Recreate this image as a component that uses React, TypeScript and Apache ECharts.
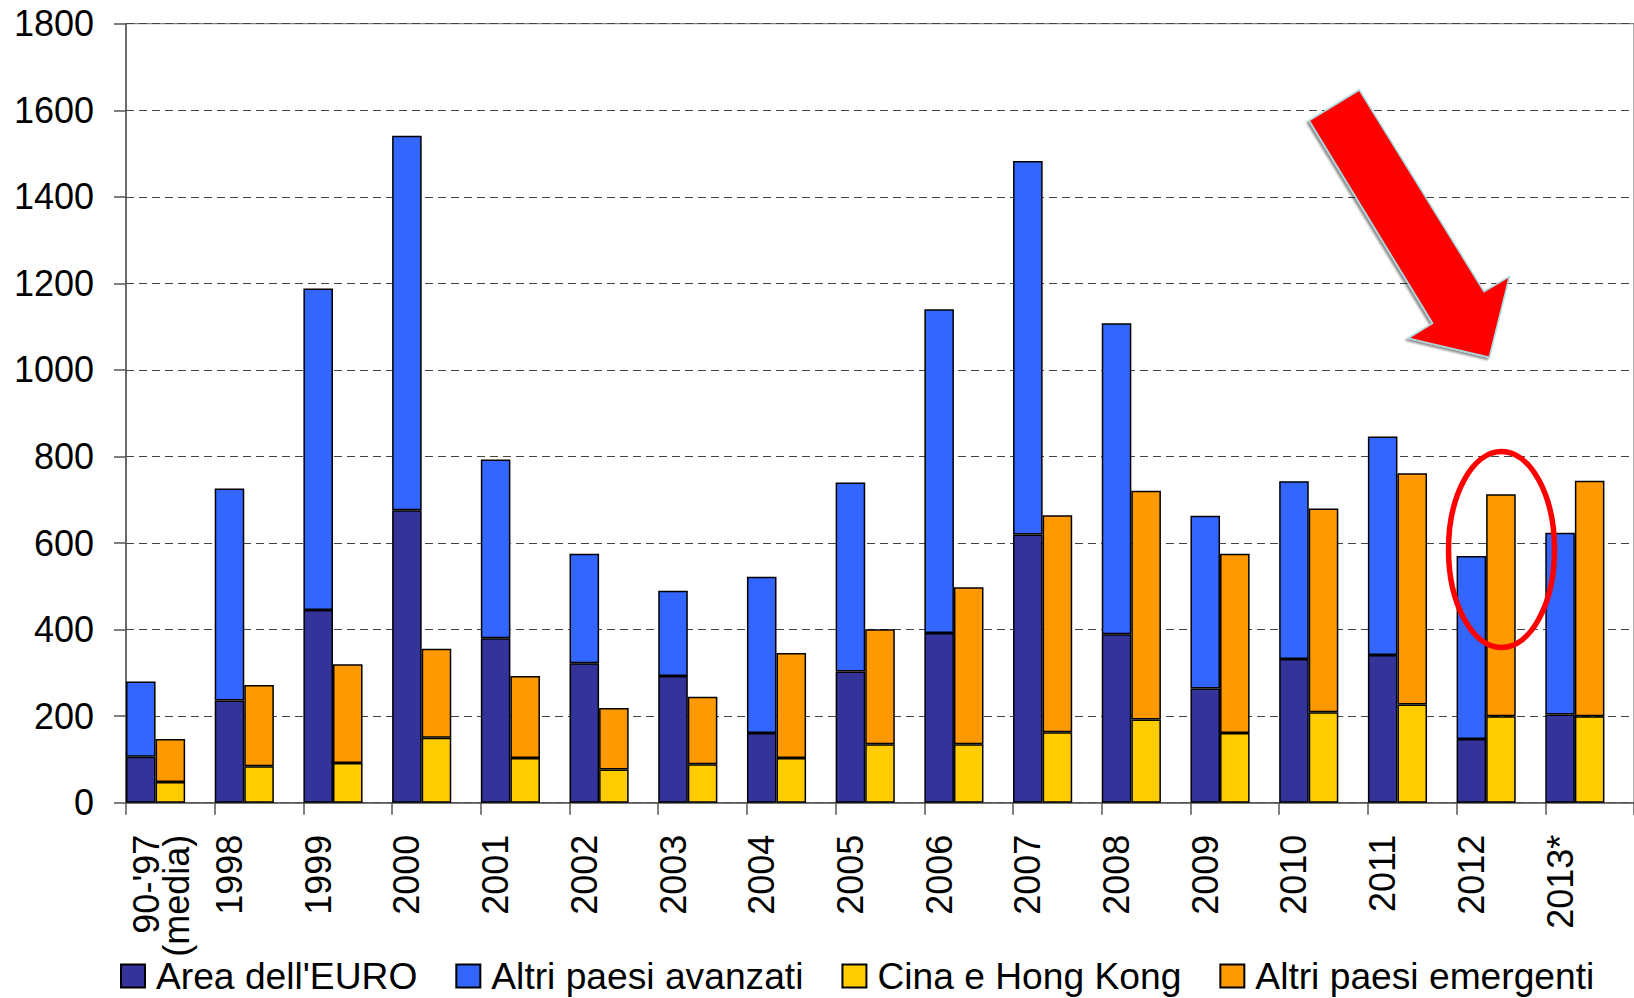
import React, { useEffect, useRef } from "react";
import * as echarts from "echarts";

const categories = ["90-'97\n(media)", "1998", "1999", "2000", "2001", "2002", "2003", "2004", "2005", "2006", "2007", "2008", "2009", "2010", "2011", "2012", "2013*"];
const areaEuro = [106, 236, 445, 676, 380, 322, 293, 161, 303, 392, 620, 389, 264, 332, 341, 147, 204];
const altriAvanzati = [174, 490, 743, 865, 413, 253, 197, 361, 437, 748, 863, 719, 399, 411, 505, 423, 420];
const cinaHK = [48, 84, 92, 150, 103, 77, 89, 103, 135, 135, 163, 192, 161, 209, 227, 200, 200];
const altriEmergenti = [99, 188, 228, 206, 190, 142, 156, 243, 266, 363, 501, 529, 414, 471, 534, 513, 544];
const yTicks = { min: 0, max: 1800, interval: 200 };

const SLOTS = 3;
const FONT = "'Liberation Sans', Arial, sans-serif";

function slotData(values: number[], offset: number) {
  const out: (number | null)[] = [];
  values.forEach((v) => {
    for (let s = 0; s < SLOTS; s++) out.push(s === offset ? v : null);
  });
  return out;
}

export default function App() {
  const ref = useRef<HTMLDivElement>(null);
  useEffect(() => {
    if (!ref.current) return;
    const chart = echarts.init(ref.current, undefined, { renderer: "svg" });
    const xData: any[] = [];
    categories.forEach((c, i) => {
      for (let s = 0; s < SLOTS; s++) {
        if (s !== 0) {
          xData.push({ value: "slot" + i + "_" + s, textStyle: { color: "rgba(0,0,0,0)" } });
        } else if (c.includes("\n")) {
          xData.push({ value: c, textStyle: { lineHeight: 30 } });
        } else {
          xData.push(c);
        }
      }
    });
    const barStyle = (color: string) => ({ color, borderColor: "#000", borderWidth: 1.5 });
    const arrowPts = [
      [1309.3, 120.7],
      [1359.3, 90],
      [1484, 291.7],
      [1509.3, 276.7],
      [1489.3, 357.3],
      [1408.3, 338.3],
      [1432.7, 323.3],
    ];
    chart.setOption({
      animation: false,
      backgroundColor: "#fff",
      grid: {
        left: 126,
        top: 23.7,
        right: -10.4,
        bottom: 195.3,
        show: true,
        borderColor: "#666",
        borderWidth: 1,
        containLabel: false,
      },
      legend: {
        left: 120,
        top: 956,
        padding: 0,
        itemWidth: 24,
        itemHeight: 23,
        itemGap: 38,
        icon: "rect",
        textStyle: { fontSize: 37.2, lineHeight: 40, fontFamily: FONT, color: "#000", padding: [0, 0, 0, 6] },
        data: ["Area dell'EURO", "Altri paesi avanzati", "Cina e Hong Kong", "Altri paesi emergenti"],
      },
      xAxis: {
        type: "category",
        data: xData,
        boundaryGap: true,
        axisLine: { show: true, lineStyle: { color: "#555", width: 1.5 } },
        axisTick: {
          show: true,
          length: 12,
          interval: (index: number) => index % SLOTS === 0,
          lineStyle: { color: "#555", width: 1.5 },
        },
        axisLabel: {
          interval: (index: number) => index % SLOTS === 0,
          formatter: (v: string) => (v.includes("\n") ? "{p| }\n" + v : v),
          rich: { p: { lineHeight: 42, fontSize: 36, fontFamily: FONT } },
          rotate: 90,
          margin: 32,
          fontSize: 36,
          fontFamily: FONT,
          color: "#000",
        },
      },
      yAxis: {
        type: "value",
        min: yTicks.min,
        max: yTicks.max,
        interval: yTicks.interval,
        axisLine: { show: true, lineStyle: { color: "#555", width: 1.5 } },
        axisTick: { show: true, length: 12, lineStyle: { color: "#555", width: 1.5 } },
        axisLabel: {
          margin: 32,
          fontSize: 36,
          fontFamily: FONT,
          color: "#000",
          formatter: (v: number) => String(v),
        },
        splitLine: { show: true, lineStyle: { color: "#444", width: 1, type: [8, 5] } },
      },
      series: [
        { name: "Area dell'EURO", type: "bar", stack: "all", barCategoryGap: "0%", itemStyle: barStyle("#333399"), data: slotData(areaEuro, 0) },
        { name: "Altri paesi avanzati", type: "bar", stack: "all", barCategoryGap: "0%", itemStyle: barStyle("#3366FF"), data: slotData(altriAvanzati, 0) },
        { name: "Cina e Hong Kong", type: "bar", stack: "all", barCategoryGap: "0%", itemStyle: barStyle("#FFCC00"), data: slotData(cinaHK, 1) },
        { name: "Altri paesi emergenti", type: "bar", stack: "all", barCategoryGap: "0%", itemStyle: barStyle("#FF9900"), data: slotData(altriEmergenti, 1) },
      ],
      graphic: [
        {
          type: "polygon",
          z: 100,
          shape: { points: arrowPts },
          style: {
            fill: "#FF0000",
            stroke: "#a9d9df",
            lineWidth: 1.5,
            shadowBlur: 2,
            shadowColor: "rgba(0,0,0,0.45)",
            shadowOffsetX: -2,
            shadowOffsetY: 2,
          },
        },
        {
          type: "ellipse",
          z: 100,
          shape: { cx: 1501.5, cy: 549.5, rx: 53, ry: 98 },
          style: { fill: "transparent", stroke: "#FF0000", lineWidth: 5.5 },
        },
      ],
    });
    return () => chart.dispose();
  }, []);
  return (
    <div
      ref={ref}
      style={{ position: "fixed", left: 0, top: 0, width: 1634, height: 998, background: "#fff" }}
    />
  );
}
